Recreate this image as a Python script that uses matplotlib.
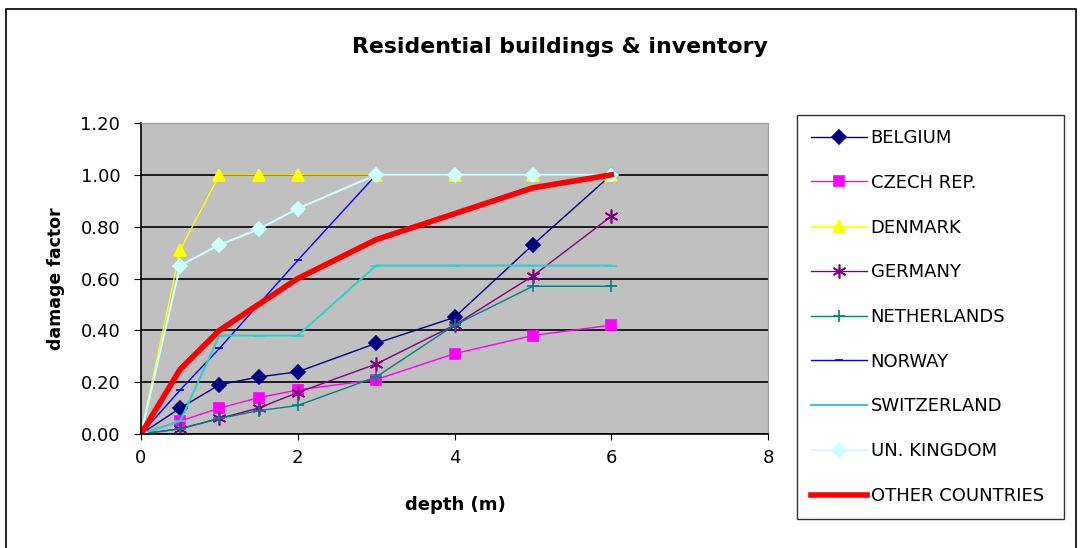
"""Residential buildings & inventory: damage factor vs flood depth."""

import matplotlib

matplotlib.use("Agg")
import matplotlib.pyplot as plt
from matplotlib.patches import Rectangle

DEPTH = [0, 0.5, 1, 1.5, 2, 3, 4, 5, 6]

BELGIUM = [0, 0.10, 0.19, 0.22, 0.24, 0.35, 0.45, 0.73, 1.00]
CZECH = [0, 0.05, 0.10, 0.14, 0.17, 0.21, 0.31, 0.38, 0.42]
DENMARK = [0, 0.71, 1.00, 1.00, 1.00, 1.00, 1.00, 1.00, 1.00]
GERMANY = [0, 0.02, 0.06, 0.10, 0.16, 0.27, 0.42, 0.61, 0.84]
NETHERLANDS = [0, 0.02, 0.06, 0.09, 0.11, 0.22, 0.42, 0.57, 0.57]
NORWAY = [0, 0.17, 0.33, 0.50, 0.67, 1.00, 1.00, 1.00, 1.00]
SWITZERLAND = [0, 0.05, 0.38, 0.38, 0.38, 0.65, 0.65, 0.65, 0.65]
UK = [0, 0.65, 0.73, 0.79, 0.87, 1.00, 1.00, 1.00, 1.00]
OTHER = [0, 0.25, 0.40, 0.50, 0.60, 0.75, 0.85, 0.95, 1.00]

Y_TICKS = [0.0, 0.2, 0.4, 0.6, 0.8, 1.0, 1.2]
X_TICKS = [0, 2, 4, 6, 8]

# (label, values, color, marker, markersize, linewidth)
SERIES = [
    ("BELGIUM", BELGIUM, "#000080", "D", 7, 1.0),
    ("CZECH REP.", CZECH, "#ff00ff", "s", 7, 1.0),
    ("DENMARK", DENMARK, "#ffff00", "^", 8, 1.0),
    ("GERMANY", GERMANY, "#800080", (6, 2, 0), 10, 1.0),
    ("NETHERLANDS", NETHERLANDS, "#008080", "+", 9, 1.0),
    ("NORWAY", NORWAY, "#0000ff", "_", 6, 1.0),
    ("SWITZERLAND", SWITZERLAND, "#33cccc", "_", 8, 1.5),
    ("UN. KINGDOM", UK, "#ccffff", "D", 7, 1.5),
    ("OTHER COUNTRIES", OTHER, "#ff0000", None, 0, 4.0),
]

plt.rcParams["font.family"] = ["DejaVu Sans"]

fig = plt.figure(figsize=(10.82, 5.48), dpi=100)
fig.patches.append(
    Rectangle((6 / 1082, -0.01), 1070 / 1082, 1 - 9 / 548 + 0.01,
              transform=fig.transFigure, fill=False, edgecolor="black", lw=1.2)
)

ax = fig.add_axes([141 / 1082, 1 - 434 / 548, 627 / 1082, 311 / 548])
ax.set_facecolor("#c0c0c0")

for label, values, color, marker, ms, lw in SERIES:
    ax.plot(DEPTH, values, color=color, marker=marker, markersize=ms,
            markeredgecolor=color, markeredgewidth=1.2, linewidth=lw, label=label)

ax.set_xlim(0, 8)
ax.set_ylim(0, 1.2)
ax.set_xticks(X_TICKS)
ax.set_yticks(Y_TICKS)
ax.set_yticklabels([f"{v:.2f}" for v in Y_TICKS])
ax.yaxis.grid(True, color="black", linewidth=1.2)
ax.set_axisbelow(True)
ax.tick_params(labelsize=13, direction="out", color="black")
ax.tick_params(axis="x", length=4, pad=7)
ax.tick_params(axis="y", length=5, pad=10)
for side in ("top", "right"):
    ax.spines[side].set_color("#999999")
for side in ("left", "bottom"):
    ax.spines[side].set_color("black")
    ax.spines[side].set_linewidth(1.2)

ax.set_xlabel("depth (m)", fontsize=13, fontweight="bold")
ax.xaxis.set_label_coords(0.502, -0.2)
ax.set_ylabel("damage factor", fontsize=12.5, fontweight="bold")
ax.yaxis.set_label_coords(-0.121, 0.5)
fig.text(560 / 1082, 1 - 47 / 548, "Residential buildings & inventory",
         ha="center", va="center", fontsize=15.8, fontweight="bold")

leg = fig.legend(loc="upper left",
                 bbox_to_anchor=(797 / 1082, 1 - 115 / 548, 267 / 1082, 0.0),
                 mode="expand", fontsize=13, frameon=True, fancybox=False,
                 edgecolor="black", labelspacing=1.48, handlelength=3.1,
                 handletextpad=0.2, borderpad=0.78, borderaxespad=0)
leg.get_frame().set_linewidth(1.0)

fig.savefig("out.png", dpi=100)
